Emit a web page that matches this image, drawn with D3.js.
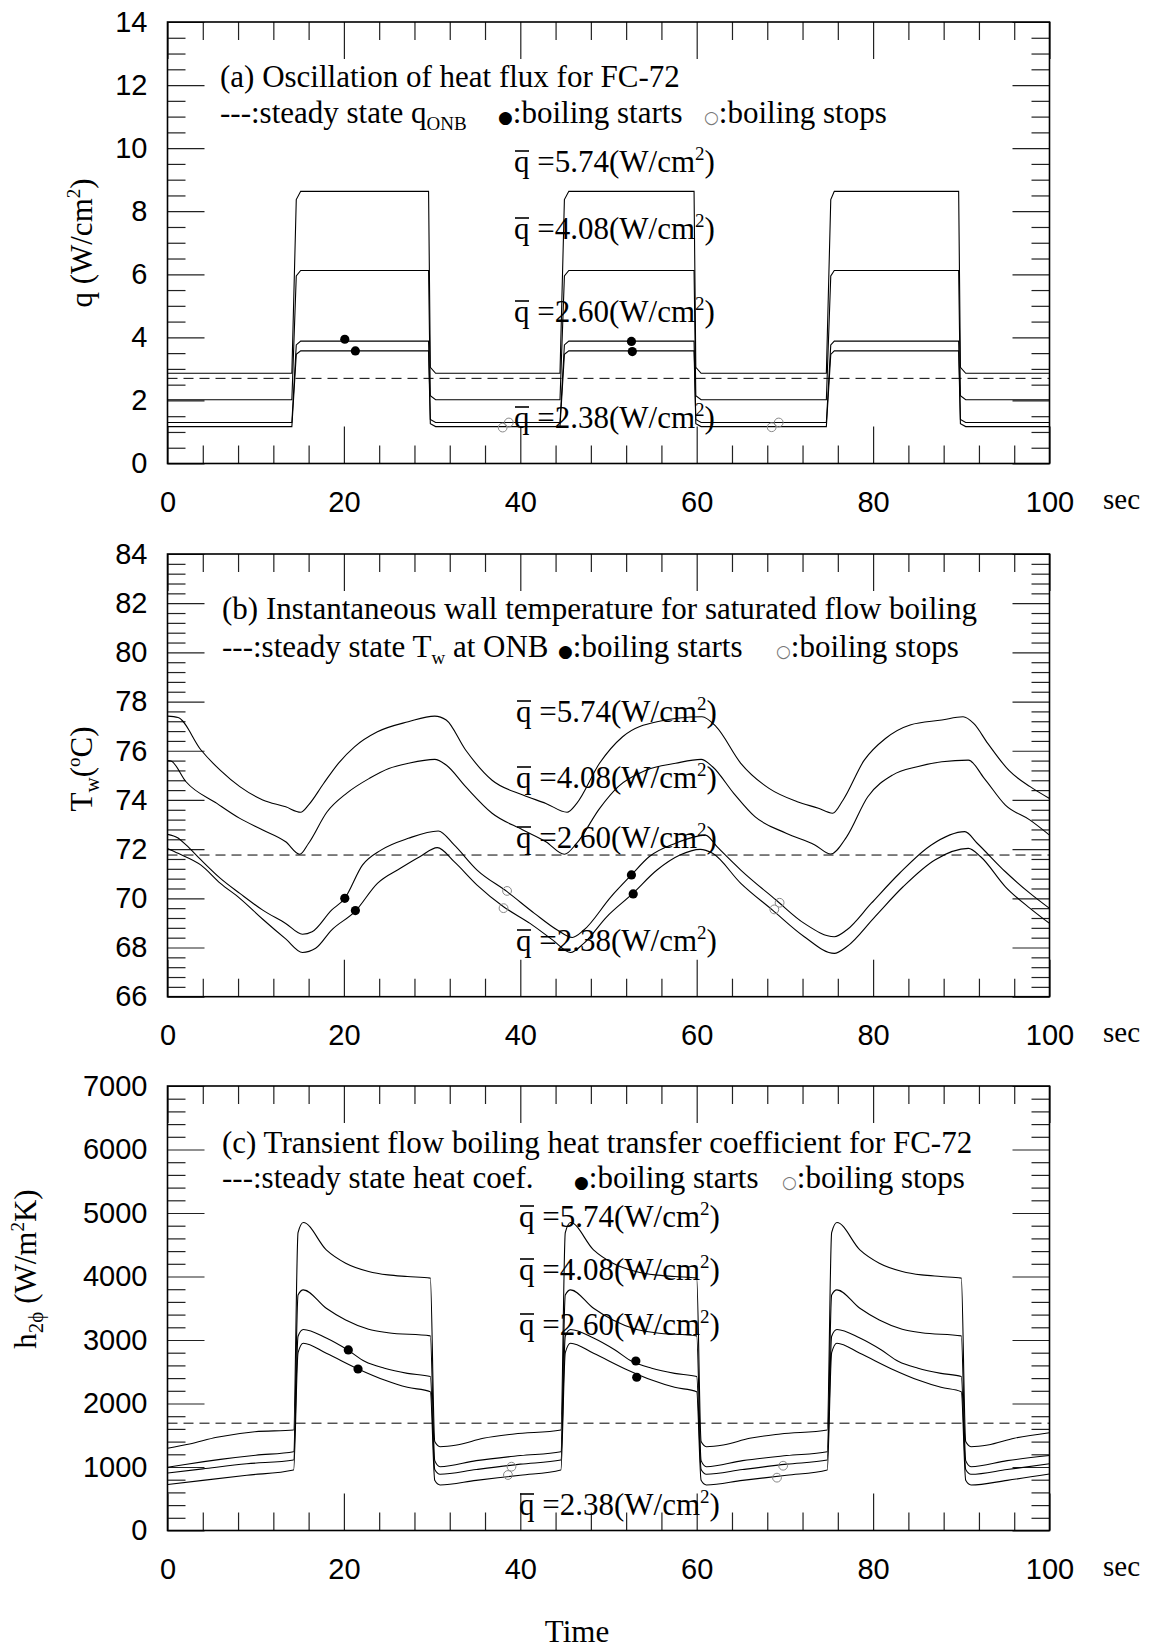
<!DOCTYPE html>
<html>
<head>
<meta charset="utf-8">
<script src="https://cdn.jsdelivr.net/npm/d3@7"></script>
<style>
  body { margin: 0; background: #fff; }
  svg text { font-family: "Liberation Serif", "Times New Roman", serif; fill: #000; }
  .ax text { font-family: "Liberation Sans", Arial, sans-serif; font-size: 29px; }
  .ax line { stroke: #222; stroke-width: 1.2; }
</style>
</head>
<body>
<div id="chart"></div>
<script>
// ---- tick labels
var xTicks = [0, 20, 40, 60, 80, 100];
var qTicks = [0, 2, 4, 6, 8, 10, 12, 14];
var twTicks = [66, 68, 70, 72, 74, 76, 78, 80, 82, 84];
var hTicks = [0, 1000, 2000, 3000, 4000, 5000, 6000, 7000];
var qbarVals = ["5.74", "4.08", "2.60", "2.38"];

// ---- (a) heat flux, square waves (time breakpoints shared by the 4 curves)
var tq   = [0, 14.1, 14.6, 15.1, 29.6, 29.8, 30.4, 44.5, 45.0, 45.5, 59.7, 59.9, 60.5, 74.7, 75.2, 75.6, 89.7, 89.9, 90.5, 100];
var q574 = [2.86, 2.86, 8.37, 8.63, 8.63, 3.05, 2.86, 2.86, 8.37, 8.63, 8.63, 3.05, 2.86, 2.86, 8.37, 8.63, 8.63, 3.05, 2.86, 2.86];
var q408 = [2.02, 2.02, 5.95, 6.12, 6.12, 2.15, 2.02, 2.02, 5.95, 6.12, 6.12, 2.15, 2.02, 2.02, 5.95, 6.12, 6.12, 2.15, 2.02, 2.02];
var q260 = [1.30, 1.30, 3.76, 3.88, 3.88, 1.40, 1.30, 1.30, 3.76, 3.88, 3.88, 1.40, 1.30, 1.30, 3.76, 3.88, 3.88, 1.40, 1.30, 1.30];
var q238 = [1.17, 1.17, 3.46, 3.57, 3.57, 1.26, 1.17, 1.17, 3.46, 3.57, 3.57, 1.26, 1.17, 1.17, 3.46, 3.57, 3.57, 1.26, 1.17, 1.17];
var qOnb = 2.70;
var qStart = [[20.1, 3.94], [21.3, 3.57], [52.6, 3.87], [52.7, 3.55]];
var qStop  = [[38.0, 1.14], [38.7, 1.30], [68.5, 1.15], [69.3, 1.30]];

// ---- (b) wall temperature
var tw574 = [[0,77.41],[1.2,77.35],[3.8,76.03],[6.0,75.2],[8.2,74.54],[10.8,74.0],[13.4,73.72],[15.1,73.5],[16.0,73.8],[17.7,74.67],[19.4,75.5],[21.2,76.16],[23.8,76.77],[27.3,77.18],[30.3,77.41],[31.6,77.25],[33.8,76.03],[36.8,74.8],[40.3,74.2],[42.9,73.86],[45.3,73.5],[46.4,73.86],[49.0,75.5],[51.6,76.57],[55.5,77.18],[60.6,77.38],[62.2,76.98],[65.0,75.49],[68.2,74.47],[71.4,73.93],[73.8,73.66],[75.4,73.46],[76.6,74.0],[79.0,75.62],[81.4,76.5],[84.2,77.05],[87.8,77.25],[90.2,77.38],[91.4,77.11],[93.0,76.3],[95.4,75.2],[97.8,74.54],[100,74.06]];
var tw408 = [[0,75.6],[0.4,75.58],[2.1,74.74],[5.6,73.86],[8.2,73.25],[10.8,72.78],[13.4,72.3],[15.0,71.79],[16.0,72.24],[18.1,73.52],[20.3,74.27],[22.9,74.88],[25.1,75.28],[27.3,75.49],[30.3,75.65],[31.6,75.42],[33.8,74.54],[36.8,73.46],[40.3,72.78],[42.9,72.3],[45.0,71.79],[46.4,72.24],[49.0,73.66],[51.1,74.54],[54.2,75.2],[57.6,75.49],[60.5,75.65],[61.8,75.35],[64.2,74.27],[66.6,73.32],[70.2,72.64],[73.4,72.17],[75.2,71.8],[77.0,72.5],[79.4,74.13],[82.2,75.01],[85.0,75.35],[87.8,75.55],[90.8,75.62],[92.6,74.88],[95.0,73.79],[97.8,73.18],[100,72.57]];
var tw260 = [[0,72.6],[1.2,72.45],[2.1,72.17],[3.8,71.56],[6.0,70.81],[8.2,70.2],[10.8,69.52],[13.4,68.98],[15.3,68.54],[16.4,68.64],[18.6,69.52],[20.1,70.0],[22.1,71.35],[24.2,71.96],[27.3,72.44],[30.7,72.74],[32.5,72.17],[35.1,71.15],[38.5,70.27],[41.6,69.39],[44.2,68.71],[45.9,68.41],[47.2,68.71],[50.3,70.07],[52.6,70.95],[54.6,71.69],[57.6,72.24],[61.0,72.57],[62.3,72.1],[65.0,71.15],[69.0,69.93],[72.2,68.98],[75.6,68.44],[77.0,68.71],[79.8,69.8],[83.0,71.02],[86.6,72.17],[90.4,72.71],[91.8,72.24],[95.0,71.08],[97.8,70.2],[100,69.59]];
var tw238 = [[0,72.03],[1.2,71.83],[3.8,71.35],[6.0,70.61],[8.2,70.0],[10.8,69.15],[13.4,68.35],[15.3,67.8],[16.8,67.97],[18.6,68.71],[21.3,69.48],[23.8,70.61],[26.4,71.22],[28.6,71.69],[30.6,72.06],[32.5,71.49],[35.1,70.54],[38.1,69.66],[41.1,68.98],[43.7,68.3],[45.7,67.8],[47.2,68.17],[49.8,69.25],[52.7,70.18],[55.5,71.15],[58.1,71.76],[60.4,71.99],[61.8,71.83],[65.0,70.61],[68.6,69.52],[72.2,68.44],[75.6,67.76],[77.0,68.03],[80.2,69.25],[83.4,70.47],[87.0,71.56],[90.8,72.03],[92.2,71.69],[95.0,70.47],[97.8,69.59],[100,68.98]];
var twOnb = 71.76;
var twStart = [[20.1, 70.0], [21.3, 69.5], [52.6, 70.95], [52.8, 70.18]];
var twStop  = [[38.5, 70.3], [38.1, 69.6], [69.4, 69.82], [68.8, 69.55]];

// ---- (c) heat transfer coefficient
var h574 = [[0,1295],[2.5,1362],[5.6,1468],[9.9,1556],[14.3,1583],[14.8,4690],[15.4,4850],[18.0,4420],[20.2,4210],[22.8,4080],[25.0,4025],[27.2,4000],[29.8,3975],[30.3,1400],[30.9,1320],[32.8,1346],[35.8,1452],[39.3,1520],[44.6,1583],[45.1,4690],[45.7,4850],[48.3,4420],[50.5,4210],[53.1,4080],[55.3,4025],[57.5,4000],[60.0,3975],[60.5,1400],[61.1,1320],[63.0,1346],[66.0,1452],[69.5,1520],[74.8,1583],[75.3,4690],[75.9,4850],[78.5,4420],[80.7,4210],[83.3,4080],[85.5,4025],[87.7,4000],[90.0,3975],[90.5,1400],[91.1,1320],[93.0,1346],[96.0,1452],[100,1540]];
var h408 = [[0,995],[2,1040],[6,1120],[10,1185],[14.3,1241],[14.8,3710],[15.4,3790],[18.0,3500],[20.2,3315],[22.8,3170],[25.0,3115],[29.8,3065],[30.3,1100],[30.9,1005],[35,1100],[40,1180],[44.6,1241],[45.1,3710],[45.7,3790],[48.3,3500],[50.5,3315],[53.1,3170],[55.3,3115],[60.0,3065],[60.5,1100],[61.1,1005],[65.2,1100],[70.2,1180],[74.8,1241],[75.3,3710],[75.9,3790],[78.5,3500],[80.7,3315],[83.3,3170],[85.5,3115],[90.0,3065],[90.5,1100],[91.1,1005],[95.2,1100],[100,1180]];
var h260 = [[0,905],[4,970],[9,1050],[14.3,1110],[14.8,3060],[15.4,3165],[18.0,3030],[20.4,2845],[22.4,2660],[24.6,2555],[27.2,2475],[29.8,2425],[30.3,960],[30.9,885],[35,960],[40,1045],[44.6,1110],[45.1,3060],[45.7,3165],[48.3,3030],[50.7,2845],[52.7,2660],[54.9,2555],[57.5,2475],[60.0,2425],[60.5,960],[61.1,885],[65.2,960],[70.2,1045],[74.8,1110],[75.3,3060],[75.9,3165],[78.5,3030],[80.9,2845],[82.9,2660],[85.1,2555],[87.7,2475],[90.0,2425],[90.5,960],[91.1,885],[95.2,960],[100,1050]];
var h238 = [[0,725],[4,790],[9,870],[14.3,953],[14.8,2800],[15.4,2950],[18.0,2790],[21.6,2545],[24.6,2370],[27.2,2255],[29.8,2185],[30.3,790],[30.9,717],[35,790],[40,870],[44.6,953],[45.1,2800],[45.7,2950],[48.3,2790],[51.9,2545],[54.9,2370],[57.5,2255],[60.0,2185],[60.5,790],[61.1,717],[65.2,790],[70.2,870],[74.8,953],[75.3,2800],[75.9,2950],[78.5,2790],[82.1,2545],[85.1,2370],[87.7,2255],[90.0,2185],[90.5,790],[91.1,717],[95.2,790],[100,890]];
var hOnb = 1690;
var hStart = [[20.5, 2843], [21.6, 2543], [53.1, 2669], [53.2, 2413]];
var hStop  = [[39.0, 1005], [38.6, 874], [69.8, 1020], [69.1, 832]];

// ---- layout
var W = 1153, H = 1651;
var left = 167.5, right = 1049.5;

var svg = d3.select("#chart").append("svg")
  .attr("width", W)
  .attr("height", H);

var x = d3.scaleLinear().domain([0, 100]).range([left, right]);
var xMinor = d3.range(0, 100.01, 4).filter(function(v) { return v % 20 !== 0; });

function drawPanel(p) {
  var y = d3.scaleLinear().domain(p.dom).range([p.bot, p.top]);
  var g = svg.append("g");
  var yMinor = d3.range(p.dom[0], p.dom[1] + 1e-6, p.minor)
    .filter(function(v) { return p.ticks.indexOf(+v.toFixed(4)) < 0; });

  function noDomain(s) { s.select(".domain").remove(); }

  // bottom
  g.append("g").attr("class", "ax").attr("transform", "translate(0," + p.bot + ")")
    .call(d3.axisBottom(x).tickValues(xTicks).tickFormat(d3.format("d"))
      .tickSizeInner(-37).tickSizeOuter(0).tickPadding(28))
    .call(noDomain);
  g.append("g").attr("class", "ax").attr("transform", "translate(0," + p.bot + ")")
    .call(d3.axisBottom(x).tickValues(xMinor).tickSize(-18).tickFormat(""))
    .call(noDomain);
  // top
  g.append("g").attr("class", "ax").attr("transform", "translate(0," + p.top + ")")
    .call(d3.axisTop(x).tickValues(xTicks).tickSize(-37).tickFormat(""))
    .call(noDomain);
  g.append("g").attr("class", "ax").attr("transform", "translate(0," + p.top + ")")
    .call(d3.axisTop(x).tickValues(xMinor).tickSize(-18).tickFormat(""))
    .call(noDomain);
  // left
  g.append("g").attr("class", "ax").attr("transform", "translate(" + left + ",0)")
    .call(d3.axisLeft(y).tickValues(p.ticks).tickFormat(d3.format("d"))
      .tickSizeInner(-37).tickSizeOuter(0).tickPadding(20))
    .call(noDomain);
  g.append("g").attr("class", "ax").attr("transform", "translate(" + left + ",0)")
    .call(d3.axisLeft(y).tickValues(yMinor).tickSize(-18).tickFormat(""))
    .call(noDomain);
  // right
  g.append("g").attr("class", "ax").attr("transform", "translate(" + right + ",0)")
    .call(d3.axisRight(y).tickValues(p.ticks).tickSize(-37).tickFormat(""))
    .call(noDomain);
  g.append("g").attr("class", "ax").attr("transform", "translate(" + right + ",0)")
    .call(d3.axisRight(y).tickValues(yMinor).tickSize(-18).tickFormat(""))
    .call(noDomain);

  g.append("rect")
    .attr("x", left).attr("y", p.top)
    .attr("width", right - left).attr("height", p.bot - p.top)
    .attr("fill", "none").attr("stroke", "#000").attr("stroke-width", 1.6);

  // "sec"
  g.append("text").attr("x", 1103).attr("y", p.bot + 45)
    .style("font-size", "29px").text("sec");

  // steady state line
  g.append("line")
    .attr("x1", left).attr("x2", right)
    .attr("y1", y(p.onb)).attr("y2", y(p.onb))
    .attr("stroke", "#000").attr("stroke-width", 1).attr("stroke-dasharray", "10,6");

  var line = d3.line()
    .curve(p.curve)
    .x(function(d) { return x(d[0]); })
    .y(function(d) { return y(d[1]); });

  g.selectAll("path.curve").data(p.curves).enter().append("path")
    .attr("class", "curve")
    .attr("d", line)
    .attr("fill", "none").attr("stroke", "#000").attr("stroke-width", 1.1);

  g.selectAll("circle.start").data(p.start).enter().append("circle")
    .attr("class", "start")
    .attr("cx", function(d) { return x(d[0]); })
    .attr("cy", function(d) { return y(d[1]); })
    .attr("r", 4.6).attr("fill", "#000");

  g.selectAll("circle.stop").data(p.stop).enter().append("circle")
    .attr("class", "stop")
    .attr("cx", function(d) { return x(d[0]); })
    .attr("cy", function(d) { return y(d[1]); })
    .attr("r", 4.4).attr("fill", "none").attr("stroke", "#888").attr("stroke-width", 1);

  // title
  g.append("text").attr("x", p.tx).attr("y", p.t1y).style("font-size", "31px").text(p.title);

  // second line of the legend
  var l2 = g.append("text").attr("x", p.tx).attr("y", p.t2y).style("font-size", "31px");
  l2.append("tspan").text(p.l2a);
  if (p.l2sub) {
    l2.append("tspan").attr("dy", 7).style("font-size", "19px").text(p.l2sub);
    l2.append("tspan").attr("dy", -7).text(p.l2b);
  }
  var st = g.append("text").attr("x", p.dotX).attr("y", p.t2y).style("font-size", "31px");
  st.append("tspan").style("font-family", "DejaVu Sans").style("font-size", "17px").text("\u25CF");
  st.append("tspan").text(":boiling starts");
  var sp = g.append("text").attr("x", p.ringX).attr("y", p.t2y).style("font-size", "31px");
  sp.append("tspan").style("font-family", "DejaVu Sans").style("font-size", "17px").style("fill", "#777").text("\u25CB");
  sp.append("tspan").text(":boiling stops");

  // q-bar labels
  qbarVals.forEach(function(v, i) {
    var yb = p.qy[i];
    var t = g.append("text").attr("x", p.qx).attr("y", yb).style("font-size", "31px");
    t.append("tspan").text("q =" + v + "(W/cm");
    t.append("tspan").attr("dy", -12).style("font-size", "19px").text("2");
    t.append("tspan").attr("dy", 12).text(")");
    g.append("line")
      .attr("x1", p.qx + 1).attr("x2", p.qx + 15)
      .attr("y1", yb - 21).attr("y2", yb - 21)
      .attr("stroke", "#000").attr("stroke-width", 1.6);
  });

  // y axis title
  var yt = g.append("text")
    .attr("transform", "translate(" + p.ylx + "," + p.yly + ") rotate(-90)")
    .attr("text-anchor", "middle")
    .style("font-size", "31px");
  p.ylab(yt);

  return g;
}

function zip(t, v) { return t.map(function(d, i) { return [d, v[i]]; }); }

drawPanel({
  dom: [0, 14], top: 22, bot: 463.5, ticks: qTicks, minor: 0.5, onb: qOnb,
  curves: [zip(tq, q574), zip(tq, q408), zip(tq, q260), zip(tq, q238)],
  curve: d3.curveLinear,
  start: qStart, stop: qStop,
  tx: 220, t1y: 87, t2y: 123,
  title: "(a) Oscillation of heat flux for FC-72",
  l2a: "---:steady state q", l2sub: "ONB", l2b: "",
  dotX: 498, ringX: 704,
  qx: 514, qy: [172, 239, 322, 428],
  ylx: 92, yly: 243,
  ylab: function(t) {
    t.append("tspan").text("q (W/cm");
    t.append("tspan").attr("dy", -12).style("font-size", "19px").text("2");
    t.append("tspan").attr("dy", 12).text(")");
  }
});

drawPanel({
  dom: [66, 84], top: 554, bot: 996.7, ticks: twTicks, minor: 0.4, onb: twOnb,
  curves: [tw574, tw408, tw260, tw238],
  curve: d3.curveMonotoneX,
  start: twStart, stop: twStop,
  tx: 222, t1y: 619, t2y: 657,
  title: "(b) Instantaneous wall temperature for saturated flow boiling",
  l2a: "---:steady state T", l2sub: "w", l2b: " at ONB",
  dotX: 558, ringX: 776,
  qx: 516, qy: [722, 788, 848, 951],
  ylx: 92, yly: 769,
  ylab: function(t) {
    t.append("tspan").text("T");
    t.append("tspan").attr("dy", 7).style("font-size", "21px").text("w");
    t.append("tspan").attr("dy", -7).text("(");
    t.append("tspan").attr("dy", -12).style("font-size", "19px").text("o");
    t.append("tspan").attr("dy", 12).text("C)");
  }
});

drawPanel({
  dom: [0, 7000], top: 1086, bot: 1530.5, ticks: hTicks, minor: 200, onb: hOnb,
  curves: [h574, h408, h260, h238],
  curve: d3.curveMonotoneX,
  start: hStart, stop: hStop,
  tx: 222, t1y: 1153, t2y: 1188,
  title: "(c) Transient flow boiling heat transfer coefficient for FC-72",
  l2a: "---:steady state heat coef.", l2sub: null,
  dotX: 574, ringX: 782,
  qx: 519, qy: [1227, 1280, 1335, 1515],
  ylx: 36, yly: 1269,
  ylab: function(t) {
    t.append("tspan").text("h");
    t.append("tspan").attr("dy", 7).style("font-size", "21px").text("2\u03D5");
    t.append("tspan").attr("dy", -7).text(" (W/m");
    t.append("tspan").attr("dy", -12).style("font-size", "19px").text("2");
    t.append("tspan").attr("dy", 12).text("K)");
  }
});

svg.append("text").attr("x", 577).attr("y", 1642)
  .attr("text-anchor", "middle").style("font-size", "31px").text("Time");
</script>
</body>
</html>
